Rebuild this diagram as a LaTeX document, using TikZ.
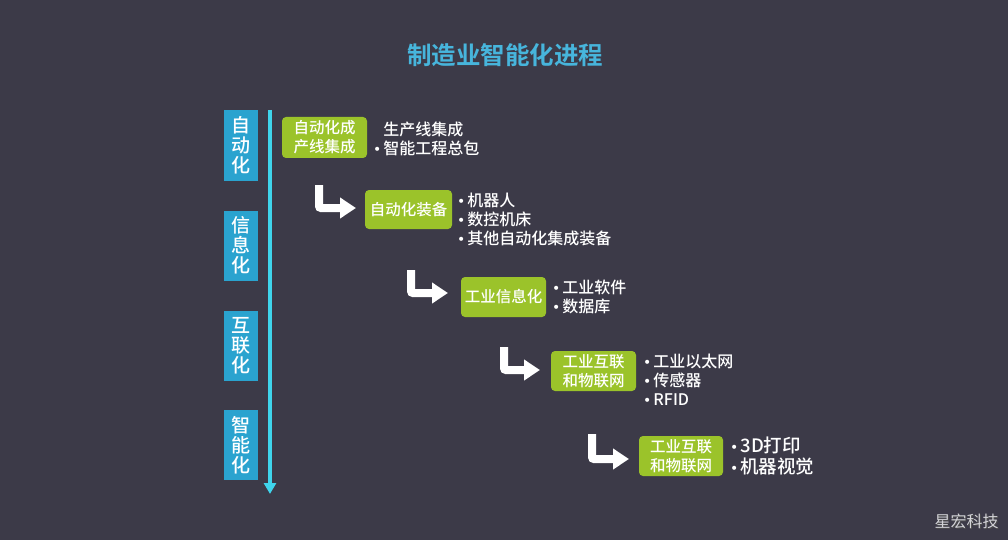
\documentclass[tikz,border=0pt]{standalone}
\usepackage{fontspec}
\newfontfamily\cjk{Noto Sans CJK SC Medium}
\newfontfamily\cjkr{Noto Sans CJK SC}
\newfontfamily\cjkb{Noto Sans CJK SC Bold}
\newfontfamily\dvs{DejaVu Sans}
\newcommand\bul{{\dvs\fontsize{14}{14}\selectfont •}\hspace{2pt}}
\usetikzlibrary{arrows.meta}
\definecolor{bgc}{HTML}{3C3A48}
\definecolor{cyanline}{HTML}{3FD4EC}
\definecolor{bluebox}{HTML}{2AA3CF}
\definecolor{greenbox}{HTML}{9BC32A}
\definecolor{titlec}{HTML}{47B5DC}
\definecolor{wm}{HTML}{D4D4D8}
\tikzset{
  gbox/.style={rectangle, rounded corners=4pt, fill=greenbox, text=white, align=center, inner sep=0pt,
    font=\cjk\fontsize{15.5}{19}\selectfont},
  bbox/.style={rectangle, fill=bluebox, text=white, align=center, inner sep=0pt,
    minimum width=34pt, minimum height=70pt, font=\cjk\fontsize{19}{20}\selectfont},
  blist/.style={anchor=west, text=white, align=left, inner sep=0pt,
    font=\cjk\fontsize{16}{19}\selectfont},
  bentarrow/.style={draw=white, line width=8pt, rounded corners=2pt, -{Triangle[length=16pt,width=20pt]}},
}
\begin{document}
\begin{tikzpicture}[x=1pt,y=-1pt]
\fill[bgc] (0,0) rectangle (1008,540);
\useasboundingbox (0,0) rectangle (1008,540);

\node[text=titlec, font=\cjkb\fontsize{24.5}{27}\selectfont] (title) at (505,55) {制造业智能化进程};

% timeline
\coordinate (ts) at (270,110);
\coordinate (te) at (270,494);
\draw[cyanline, line width=4pt, -{Triangle[length=11pt,width=12pt]}] (ts) -- (te);

% stage labels
\node[bbox] (s1) at (241,145.5) {自\\动\\化};
\node[bbox] (s2) at (241,245.5) {信\\息\\化};
\node[bbox] (s3) at (241,345.5) {互\\联\\化};
\node[bbox] (s4) at (241,445) {智\\能\\化};

% green boxes
\node[gbox, minimum width=85pt, minimum height=41pt] (g1) at (324.5,137.5) {自动化成\\产线集成};
\node[gbox, minimum width=87pt, minimum height=39pt] (g2) at (408.5,209.5) {自动化装备};
\node[gbox, minimum width=85pt, minimum height=40pt] (g3) at (503.5,297) {工业信息化};
\node[gbox, minimum width=85pt, minimum height=40pt] (g4) at (593.5,371) {工业互联\\和物联网};
\node[gbox, minimum width=84pt, minimum height=40pt] (g5) at (681,456) {工业互联\\和物联网};

% lists
\node[blist] (l1) at (373,138.5) {\phantom{\bul}生产线集成\\\bul 智能工程总包};
\node[blist] (l2) at (457,219) {\bul 机器人\\\bul 数控机床\\\bul 其他自动化集成装备};
\node[blist] (l3) at (552,296.5) {\bul 工业软件\\\bul 数据库};
\node[blist] (l4) at (643,380) {\bul 工业以太网\\\bul 传感器\\\bul RFID};
\node[blist, font=\cjk\fontsize{18.5}{21}\selectfont] (l5) at (730,456.5) {\bul 3D打印\\\bul 机器视觉};

% bent arrows
\coordinate (a1s) at (319,185); \coordinate (a1e) at (356,208);
\coordinate (a2s) at (411,270); \coordinate (a2e) at (448,293);
\coordinate (a3s) at (504,347); \coordinate (a3e) at (540,370);
\coordinate (a4s) at (592,434); \coordinate (a4e) at (629,459);
\draw[bentarrow] (a1s) |- (a1e);
\draw[bentarrow] (a2s) |- (a2e);
\draw[bentarrow] (a3s) |- (a3e);
\draw[bentarrow] (a4s) |- (a4e);

% watermark
\node[text=black!70, font=\cjkr\fontsize{16}{18}\selectfont] at (967.5,522) {星宏科技};
\node[text=wm, font=\cjkr\fontsize{16}{18}\selectfont] (wmark) at (966.5,521) {星宏科技};
\end{tikzpicture}
\end{document}
